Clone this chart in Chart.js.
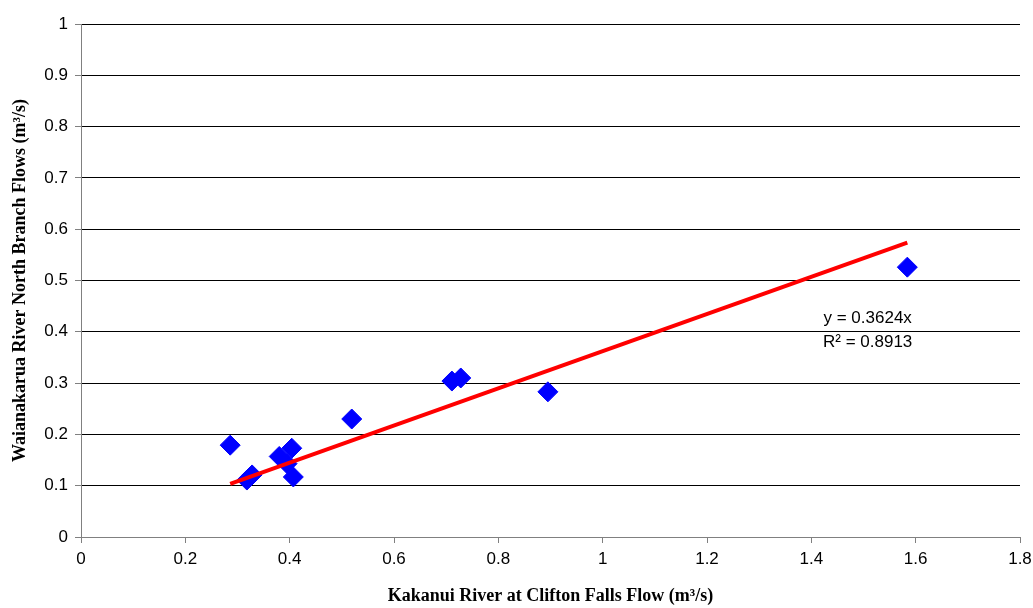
<!DOCTYPE html>
<html>
<head>
<meta charset="utf-8">
<script src="https://cdn.jsdelivr.net/npm/chart.js@4"></script>
<style>
  body { margin: 0; background: #fff; }
  canvas { display: block; }
</style>
</head>
<body>
<canvas id="flowChart" width="1033" height="608"></canvas>
<script>
// Kakanui vs Waianakarua flow gaugings
const kakanuiFlows = [0.286, 0.318, 0.328, 0.380, 0.404, 0.395, 0.407, 0.519, 0.711, 0.728, 0.895, 1.584];
const waianakaruaFlows = [0.179, 0.111, 0.121, 0.157, 0.173, 0.143, 0.117, 0.230, 0.304, 0.310, 0.283, 0.526];
const trendSlope = 0.3624;
const trendR2 = 0.8913;
const xTitle = 'Kakanui River at Clifton Falls Flow (m\u00B3/s)';
const yTitle = 'Waianakarua River North Branch Flows (m\u00B3/s)';

const points = kakanuiFlows.map((x, i) => ({ x: x, y: waianakaruaFlows[i] }));
const xMin = Math.min(...kakanuiFlows);
const xMax = Math.max(...kakanuiFlows);
const trend = [
    { x: xMin, y: trendSlope * xMin },
    { x: xMax, y: trendSlope * xMax }
];

const trendLabel = {
    id: 'trendLabel',
    afterDatasetsDraw(chart) {
        const ctx = chart.ctx;
        const xs = chart.scales.x;
        const ys = chart.scales.y;
        const cx = xs.getPixelForValue(1.508);
        const cy = ys.getPixelForValue(0.427);
        ctx.save();
        ctx.fillStyle = '#000';
        ctx.font = '17px "Liberation Sans", Arial, sans-serif';
        ctx.textAlign = 'center';
        ctx.textBaseline = 'middle';
        ctx.fillText('y = ' + trendSlope + 'x', cx, cy);
        ctx.fillText('R\u00B2 = ' + trendR2, cx, cy + 24);
        ctx.restore();
    }
};

const tickFont = { family: '"Liberation Sans", Arial, sans-serif', size: 17 };
const titleFont = { family: '"Liberation Serif", "Times New Roman", serif', size: 18, weight: 'bold' };

const ctx = document.getElementById('flowChart').getContext('2d');
const flowChart = new Chart(ctx, {
    type: 'scatter',
    data: {
        datasets: [{
            label: 'Trend',
            type: 'line',
            data: trend,
            borderColor: '#ff0000',
            borderWidth: 4,
            pointRadius: 0,
            fill: false,
            order: 1
        }, {
            label: 'Gaugings',
            data: points,
            pointStyle: 'rectRot',
            pointRadius: 10,
            backgroundColor: '#0000ff',
            borderColor: '#0000ff',
            borderWidth: 1,
            order: 2
        }]
    },
    options: {
        responsive: false,
        animation: false,
        layout: { padding: { top: 24, right: 0, left: 0, bottom: 0 } },
        plugins: {
            legend: { display: false },
            tooltip: { enabled: false }
        },
        scales: {
            x: {
                type: 'linear',
                min: 0,
                max: 1.8,
                afterFit: s => { s.height = 71; s.paddingRight = 13; },
                ticks: {
                    stepSize: 0.2,
                    color: '#000',
                    padding: 6,
                    font: tickFont,
                    callback: v => Math.round(v * 10) / 10
                },
                grid: {
                    drawOnChartArea: false,
                    drawTicks: true,
                    tickLength: 6,
                    color: '#808080'
                },
                border: { color: '#808080' },
                title: {
                    display: true,
                    text: xTitle,
                    color: '#000',
                    padding: { top: 0, bottom: 1 },
                    font: titleFont
                }
            },
            y: {
                min: 0,
                max: 1,
                afterFit: s => { s.width = 81; },
                ticks: {
                    stepSize: 0.1,
                    color: '#000',
                    padding: 7,
                    font: tickFont,
                    callback: v => Math.round(v * 10) / 10
                },
                grid: {
                    color: '#000',
                    tickLength: 6,
                    tickColor: '#808080'
                },
                border: { color: '#808080' },
                title: {
                    display: true,
                    text: yTitle,
                    color: '#000',
                    padding: { top: 10, bottom: 0 },
                    font: titleFont
                }
            }
        }
    },
    plugins: [trendLabel]
});
</script>
</body>
</html>
